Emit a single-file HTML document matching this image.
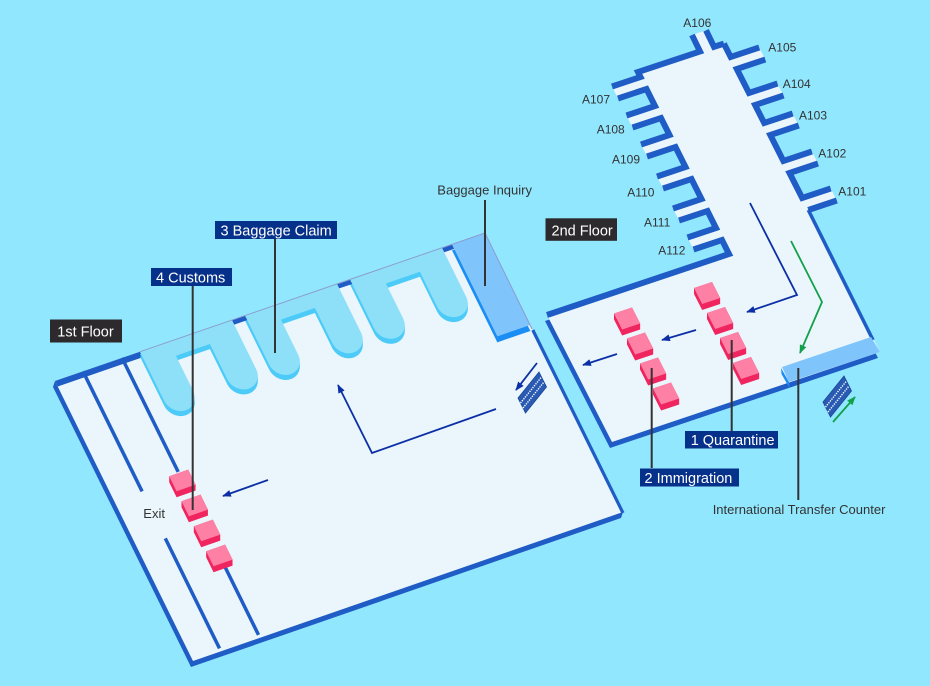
<!DOCTYPE html>
<html>
<head>
<meta charset="utf-8">
<style>
html,body{margin:0;padding:0;background:#91e7fe;}
svg{display:block;}
</style>
</head>
<body>
<svg width="930" height="686" viewBox="0 0 930 686" xmlns="http://www.w3.org/2000/svg" font-family="'Liberation Sans', Arial, sans-serif">
<defs>
  <path id="c1" d="M85,0 H177 V49 A14.5,14.5 0 0 1 148,49 V14 H114 V49 A14.5,14.5 0 0 1 85,49 Z"/>
  <path id="c2" d="M190,0 H282 V49 A14.5,14.5 0 0 1 253,49 V14 H219 V49 A14.5,14.5 0 0 1 190,49 Z"/>
  <path id="c3" d="M295,0 H387 V49 A14.5,14.5 0 0 1 358,49 V14 H324 V49 A14.5,14.5 0 0 1 295,49 Z"/>
  <marker id="an" viewBox="0 0 10 8" refX="9" refY="4" markerWidth="9" markerHeight="7" markerUnits="userSpaceOnUse" orient="auto"><path d="M0,0 L10,4 L0,8 z" fill="#0c2fa6"/></marker>
  <marker id="ag" viewBox="0 0 10 8" refX="9" refY="4" markerWidth="9" markerHeight="7" markerUnits="userSpaceOnUse" orient="auto"><path d="M0,0 L10,4 L0,8 z" fill="#13a04a"/></marker>
</defs>

<rect x="0" y="0" width="930" height="686" fill="#91e7fe"/>

<!-- ============ 1st FLOOR ============ -->
<polygon points="55,381 485,233 623,512 621,518 191,667 53,387" fill="#1f5cc5"/>
<polygon points="55,381 485,233 623,512 193,661" fill="#eaf6fb"/>

<g transform="matrix(1,-0.3442,0.4929,1,55,381)">
  <rect x="0" y="0" width="85" height="5.5" fill="#1f5cc5"/>
  <g fill="#4ccbf8">
    <use href="#c1" x="-1.05" y="2.15"/><use href="#c1" x="-2.1" y="4.3"/>
    <use href="#c2" x="-1.05" y="2.15"/><use href="#c2" x="-2.1" y="4.3"/>
    <use href="#c3" x="-1.05" y="2.15"/><use href="#c3" x="-2.1" y="4.3"/>
  </g>
  <g fill="#8ee0f9">
    <use href="#c1"/><use href="#c2"/><use href="#c3"/>
  </g>
  <rect x="177" y="0" width="13" height="4.5" fill="#1f5cc5"/>
  <rect x="282" y="0" width="13" height="4.5" fill="#1f5cc5"/>
  <rect x="387" y="0" width="10" height="4.5" fill="#1f5cc5"/>
  <rect x="394.5" y="5.1" width="33" height="92" fill="#1a8ef5"/>
  <rect x="397" y="0" width="33" height="92" fill="#80c4fc"/>
</g>

<line x1="140" y1="351.7" x2="485" y2="233" stroke="#8c9dd0" stroke-width="1"/>
<line x1="485" y1="233" x2="532" y2="329" stroke="#8c9dd0" stroke-width="1"/>
<line x1="532.8" y1="330" x2="623" y2="513" stroke="#1f5cc5" stroke-width="3.2"/>
<g stroke="#1f5cc5" stroke-width="3.5" stroke-linecap="butt">
  <line x1="83" y1="371.4" x2="142.1" y2="491.4"/>
  <line x1="122" y1="357.9" x2="178.2" y2="471.9"/>
  <line x1="165.3" y1="538.4" x2="219.5" y2="648.4"/>
  <line x1="225" y1="566.9" x2="258.5" y2="634.9"/>
</g>

<g transform="matrix(1,-0.3442,0.4929,1,55,381)">
  <polygon points="57.5,115 76.5,115 76.5,130 73.97,135.13 54.97,135.13 54.97,120.13" fill="#f0245e"/>
  <rect x="57.5" y="115" width="19" height="15" fill="#ff80a5"/>
  <polygon points="57.5,140 76.5,140 76.5,155 73.97,160.13 54.97,160.13 54.97,145.13" fill="#f0245e"/>
  <rect x="57.5" y="140" width="19" height="15" fill="#ff80a5"/>
  <polygon points="57.5,165 76.5,165 76.5,180 73.97,185.13 54.97,185.13 54.97,170.13" fill="#f0245e"/>
  <rect x="57.5" y="165" width="19" height="15" fill="#ff80a5"/>
  <polygon points="57.5,190 76.5,190 76.5,205 73.97,210.13 54.97,210.13 54.97,195.13" fill="#f0245e"/>
  <rect x="57.5" y="190" width="19" height="15" fill="#ff80a5"/>
</g>

<polygon points="518,398 539,372 546.5,387 525.5,413" fill="#2a5bb3" stroke="#1b4598" stroke-width="0.8"/>
<line x1="520.5" y1="403" x2="541.5" y2="377" stroke="#ffffff" stroke-width="1.4" stroke-dasharray="1.3,1.1"/>
<line x1="523" y1="408" x2="544" y2="382" stroke="#ffffff" stroke-width="1.4" stroke-dasharray="1.3,1.1"/>

<!-- ============ 2nd FLOOR ============ -->
<polygon points="545,321 727,260 806,216 878,358 610,448" fill="#1f5cc5"/>
<polygon points="547,315 729,254 722,240 693.5,249.5 687.5,237.5 716,228 707.5,211 679,220.5 673,208.5 701.5,199 691.5,179 663,188.5 657,176.5 685.5,167 675.5,147 647,156.5 641,144.5 669.5,135 661,118 632.5,127.5 626.5,115.5 655,106 646.5,89 618,98.5 612,86.5 640.5,77 638,72 700,51.5 692,35 706,30.3 714,46.8 723.9,43.6 730.7,57 759.2,47.5 765.3,59.5 736.8,69 749,93 777.5,83.5 783.6,95.5 755.1,105 764.2,123 792.7,113.5 798.8,125.5 770.3,135 783.4,161 811.9,151.5 818,163.5 789.5,173 802.2,198 830.7,188.5 836.8,200.5 808.3,210 880,352 612,442" fill="#eaf6fb"/>

<g fill="none" stroke="#1f5cc5" stroke-width="6" stroke-linejoin="miter">
  <path d="M547,315 L729,254 L722,240 L693.5,249.5 M687.5,237.5 L716,228 L707.5,211 L679,220.5 M673,208.5 L701.5,199 L691.5,179 L663,188.5 M657,176.5 L685.5,167 L675.5,147 L647,156.5 M641,144.5 L669.5,135 L661,118 L632.5,127.5 M626.5,115.5 L655,106 L646.5,89 L618,98.5 M612,86.5 L640.5,77 L638,72 L700,51.5 L692,35 M706,30.3 L714,46.8 L723.9,43.6"/>
  <path d="M723.9,43.6 L730.7,57 L759.2,47.5 M765.3,59.5 L736.8,69 L749,93 L777.5,83.5 M783.6,95.5 L755.1,105 L764.2,123 L792.7,113.5 M798.8,125.5 L770.3,135 L783.4,161 L811.9,151.5 M818,163.5 L789.5,173 L802.2,198 L830.7,188.5 M836.8,200.5 L808.3,210"/>
</g>
<line x1="808.3" y1="210" x2="873" y2="340" stroke="#1f5cc5" stroke-width="3.5"/>

<polygon points="781,368 789,382 789.5,388 781.5,374" fill="#1a8ef5"/>
<polygon points="782,367 871,337 880,352 789,382" fill="#80c4fc"/>

<g transform="matrix(1,-0.335,0.51,1,694,288)"><polygon points="0,0 18,0 18,16 15.39,21.12 -2.61,21.12 -2.61,5.12" fill="#f0245e"/><rect width="18" height="16" fill="#ff80a5"/></g>
<g transform="matrix(1,-0.335,0.51,1,707,313)"><polygon points="0,0 18,0 18,16 15.39,21.12 -2.61,21.12 -2.61,5.12" fill="#f0245e"/><rect width="18" height="16" fill="#ff80a5"/></g>
<g transform="matrix(1,-0.335,0.51,1,720,338)"><polygon points="0,0 18,0 18,16 15.39,21.12 -2.61,21.12 -2.61,5.12" fill="#f0245e"/><rect width="18" height="16" fill="#ff80a5"/></g>
<g transform="matrix(1,-0.335,0.51,1,733,363)"><polygon points="0,0 18,0 18,16 15.39,21.12 -2.61,21.12 -2.61,5.12" fill="#f0245e"/><rect width="18" height="16" fill="#ff80a5"/></g>
<g transform="matrix(1,-0.335,0.51,1,614,313.5)"><polygon points="0,0 18,0 18,16 15.39,21.12 -2.61,21.12 -2.61,5.12" fill="#f0245e"/><rect width="18" height="16" fill="#ff80a5"/></g>
<g transform="matrix(1,-0.335,0.51,1,627,338.5)"><polygon points="0,0 18,0 18,16 15.39,21.12 -2.61,21.12 -2.61,5.12" fill="#f0245e"/><rect width="18" height="16" fill="#ff80a5"/></g>
<g transform="matrix(1,-0.335,0.51,1,640,363.5)"><polygon points="0,0 18,0 18,16 15.39,21.12 -2.61,21.12 -2.61,5.12" fill="#f0245e"/><rect width="18" height="16" fill="#ff80a5"/></g>
<g transform="matrix(1,-0.335,0.51,1,653,388.5)"><polygon points="0,0 18,0 18,16 15.39,21.12 -2.61,21.12 -2.61,5.12" fill="#f0245e"/><rect width="18" height="16" fill="#ff80a5"/></g>

<polygon points="823,402 844,376 851.5,391 830.5,417" fill="#2a5bb3" stroke="#1b4598" stroke-width="0.8"/>
<line x1="825.5" y1="407" x2="846.5" y2="381" stroke="#ffffff" stroke-width="1.4" stroke-dasharray="1.3,1.1"/>
<line x1="828" y1="412" x2="849" y2="386" stroke="#ffffff" stroke-width="1.4" stroke-dasharray="1.3,1.1"/>

<!-- ============ ARROWS ============ -->
<g fill="none" stroke="#0c2fa6" stroke-width="1.8">
  <path d="M537,363 L516,390" marker-end="url(#an)"/>
  <path d="M496,409 L372,453 L338,385" marker-end="url(#an)"/>
  <path d="M268,480 L223,496" marker-end="url(#an)"/>
  <path d="M750,203 L797,295 L747,312" marker-end="url(#an)"/>
  <path d="M696,330 L662,340" marker-end="url(#an)"/>
  <path d="M617,354 L583,365" marker-end="url(#an)"/>
</g>
<g fill="none" stroke="#13a04a" stroke-width="1.8">
  <path d="M791,241 L822,302 L800,353" marker-end="url(#ag)"/>
  <path d="M833,422 L855,397" marker-end="url(#ag)"/>
</g>

<!-- ============ POINTER LINES ============ -->
<g stroke="#333333" stroke-width="2">
  <line x1="275" y1="239" x2="275" y2="353"/>
  <line x1="192.7" y1="286" x2="192.7" y2="510"/>
  <line x1="485" y1="200" x2="485" y2="286"/>
  <line x1="731.7" y1="340" x2="731.7" y2="431"/>
  <line x1="651.7" y1="368" x2="651.7" y2="468"/>
  <line x1="798.3" y1="368" x2="798.3" y2="500"/>
</g>

<!-- ============ LABEL BOXES ============ -->
<rect x="215" y="221" width="122" height="18" fill="#06318a"/>
<text x="220.5" y="235.3" font-size="14.5" fill="#ffffff">3 Baggage Claim</text>
<rect x="151" y="268" width="81" height="18" fill="#06318a"/>
<text x="156" y="282.3" font-size="14.5" fill="#ffffff">4 Customs</text>
<rect x="685" y="431" width="93" height="17.5" fill="#06318a"/>
<text x="690.7" y="445" font-size="14.5" fill="#ffffff">1 Quarantine</text>
<rect x="640" y="468.5" width="99" height="18" fill="#06318a"/>
<text x="644.5" y="482.8" font-size="14.5" fill="#ffffff">2 Immigration</text>
<rect x="50" y="319.5" width="72" height="23" fill="#2c2a2c"/>
<text x="57.3" y="336.5" font-size="14.5" fill="#ffffff">1st Floor</text>
<rect x="545.5" y="218.3" width="71.5" height="22.5" fill="#2c2a2c"/>
<text x="551.5" y="235.3" font-size="14.5" fill="#ffffff">2nd Floor</text>

<!-- ============ TEXT ============ -->
<g fill="#333333" font-size="13">
  <text x="437.3" y="194.3">Baggage Inquiry</text>
  <text x="712.7" y="513.8">International Transfer Counter</text>
  <text x="143.3" y="518">Exit</text>
</g>
<g fill="#333333" font-size="12">
  <text x="683.3" y="26.8">A106</text>
  <text x="768.3" y="51.3">A105</text>
  <text x="782.7" y="88">A104</text>
  <text x="799" y="119.6">A103</text>
  <text x="818.3" y="157.3">A102</text>
  <text x="838.3" y="195.6">A101</text>
  <text x="582" y="103.6">A107</text>
  <text x="596.7" y="133.6">A108</text>
  <text x="612" y="163.6">A109</text>
  <text x="627.3" y="196.3">A110</text>
  <text x="644" y="226.3">A111</text>
  <text x="658.3" y="254.6">A112</text>
</g>
</svg>
</body>
</html>
